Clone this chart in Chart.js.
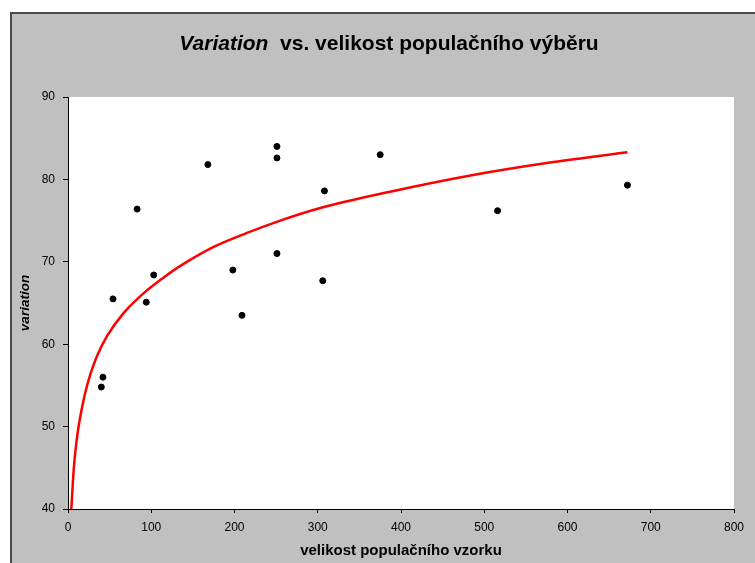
<!DOCTYPE html>
<html>
<head>
<meta charset="utf-8">
<script src="https://cdn.jsdelivr.net/npm/chart.js@4.4.1/dist/chart.umd.min.js"></script>
<style>
  html, body { margin: 0; padding: 0; background: #fff; }
  canvas { display: block; }
</style>
</head>
<body>
<canvas id="chart" width="755" height="563"></canvas>
<script>
// sample size vs. variation (scatter)
const sampleSize = [40, 42, 54, 83, 94, 103, 168, 198, 209, 251, 251, 251, 306, 308, 375, 516, 672];
const variation = [54.8, 56.0, 65.5, 76.4, 65.1, 68.4, 81.8, 69.0, 63.5, 84.0, 82.6, 71.0, 67.7, 78.6, 83.0, 76.2, 79.3];

// logarithmic trend line
const trendSize = [4, 7, 10, 13, 20, 27, 35, 47, 67, 91, 115, 135, 175, 215, 255, 302, 387, 485, 583, 672];
const trendVariation = [40.0, 45.0, 48.0, 50.2, 53.8, 56.4, 58.6, 61.0, 63.8, 66.2, 68.1, 69.5, 71.8, 73.5, 75.0, 76.5, 78.5, 80.5, 82.1, 83.3];

const xMin = 0, xMax = 800, xStep = 100;
const yMin = 40, yMax = 90, yStep = 10;

const titleItalic = "Variation";
const titleRest = "  vs. velikost populačního výběru";
const xTitle = "velikost populačního vzorku";
const yTitle = "variation";

const frame = {
  id: "frame",
  beforeDraw(chart) {
    const ctx = chart.ctx;
    const a = chart.chartArea;
    ctx.save();
    ctx.fillStyle = "#ffffff";
    ctx.fillRect(0, 0, chart.width, chart.height);
    ctx.fillStyle = "#c0c0c0";
    ctx.fillRect(10, 12, chart.width - 10, chart.height - 12);
    ctx.strokeStyle = "#4a4a4a";
    ctx.lineWidth = 2;
    ctx.beginPath();
    ctx.moveTo(11, chart.height);
    ctx.lineTo(11, 13);
    ctx.lineTo(chart.width, 13);
    ctx.stroke();
    ctx.fillStyle = "#ffffff";
    ctx.fillRect(a.left, a.top, a.right - a.left, a.bottom - a.top);
    ctx.restore();
  },
  afterDraw(chart) {
    const ctx = chart.ctx;
    ctx.save();
    ctx.fillStyle = "#000";
    ctx.textBaseline = "alphabetic";
    const fam = "'Liberation Sans', Arial, sans-serif";
    const fItalic = "italic bold 21px " + fam;
    const fNormal = "bold 21px " + fam;
    ctx.font = fItalic;
    const w1 = ctx.measureText(titleItalic).width;
    ctx.font = fNormal;
    const w2 = ctx.measureText(titleRest).width;
    const x = 389 - (w1 + w2) / 2;
    ctx.font = fItalic;
    ctx.fillText(titleItalic, x, 50);
    ctx.font = fNormal;
    ctx.fillText(titleRest, x + w1, 50);
    ctx.restore();
  }
};

const ctx = document.getElementById("chart").getContext("2d");

new Chart(ctx, {
  type: "scatter",
  data: {
    datasets: [
      {
        label: "variation",
        data: sampleSize.map((s, i) => ({ x: s, y: variation[i] })),
        backgroundColor: "#000",
        borderColor: "#000",
        pointRadius: 3,
        order: 0,
      },
      {
        label: "trend",
        data: trendSize.map((s, i) => ({ x: s, y: trendVariation[i] })),
        showLine: true,
        borderColor: "#ff0000",
        borderWidth: 2.5,
        pointRadius: 0,
        tension: 0.4,
        cubicInterpolationMode: "monotone",
        order: 1,
      },
    ],
  },
  options: {
    responsive: false,
    animation: false,
    devicePixelRatio: 1,
    layout: { padding: { left: 10, right: 21, top: 97, bottom: 0 } },
    plugins: {
      legend: { display: false },
      tooltip: { enabled: false },
    },
    scales: {
      x: {
        type: "linear",
        min: xMin,
        max: xMax,
        ticks: {
          stepSize: xStep,
          color: "#000",
          padding: 7,
          maxRotation: 0,
          font: { family: "'Liberation Sans', Arial, sans-serif", size: 12 },
        },
        grid: { drawOnChartArea: false, tickLength: 4, color: "#000" },
        border: { color: "#000" },
        title: {
          display: true,
          text: xTitle,
          color: "#000",
          padding: { top: 0, bottom: 3 },
          font: { family: "'Liberation Sans', Arial, sans-serif", size: 15, weight: "bold" },
        },
        afterFit(s) { s.height = 54; },
      },
      y: {
        min: yMin,
        max: yMax,
        ticks: {
          stepSize: yStep,
          color: "#000",
          padding: 8,
          font: { family: "'Liberation Sans', Arial, sans-serif", size: 12 },
        },
        grid: { drawOnChartArea: false, tickLength: 5, color: "#000" },
        border: { color: "#000" },
        title: {
          display: true,
          text: yTitle,
          color: "#000",
          padding: { top: 7, bottom: 0 },
          font: { family: "'Liberation Sans', Arial, sans-serif", size: 13.5, weight: "bold", style: "italic" },
        },
        afterFit(s) { s.width = 58; },
      },
    },
  },
  plugins: [frame],
});
</script>
</body>
</html>
